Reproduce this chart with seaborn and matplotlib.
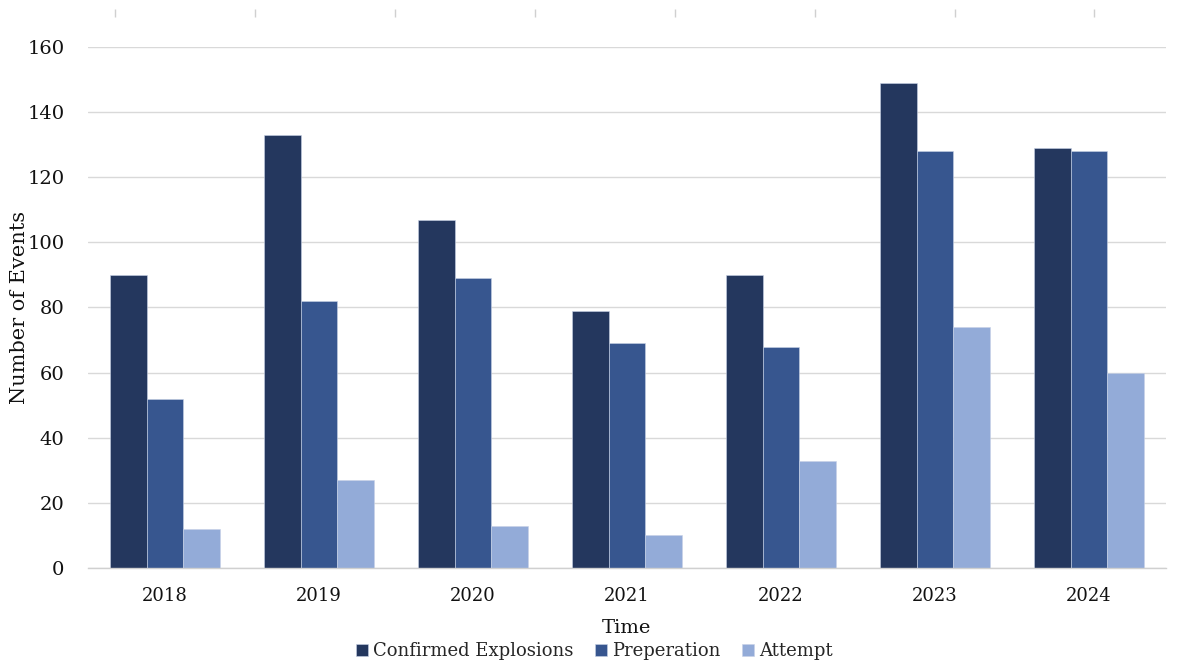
import matplotlib
matplotlib.use("Agg")
import matplotlib.pyplot as plt
import seaborn as sns
import pandas as pd

years = ["2018", "2019", "2020", "2021", "2022", "2023", "2024"]
confirmed = [90, 133, 107, 79, 90, 149, 129]
preparation = [52, 82, 89, 69, 68, 128, 128]
attempt = [12, 27, 13, 10, 33, 74, 60]
series_names = ["Confirmed Explosions", "Preperation", "Attempt"]
y_ticks = [0, 20, 40, 60, 80, 100, 120, 140, 160]

colors = ["#24375E", "#37568F", "#93ABD8"]

df = pd.DataFrame({
    "Time": years * 3,
    "Events": confirmed + preparation + attempt,
    "Series": [series_names[0]] * len(years) + [series_names[1]] * len(years) + [series_names[2]] * len(years),
})

sns.set_theme(style="white")
plt.rcParams["font.family"] = ["DejaVu Serif"]

fig = plt.figure(figsize=(11.8, 6.62), dpi=100)
ax = fig.add_axes([0.0746, 0.142, 0.9134, 0.787])

sns.barplot(data=df, x="Time", y="Events", hue="Series", hue_order=series_names,
            palette=colors, width=0.71, saturation=1, ax=ax,
            edgecolor="#c8d2e6", linewidth=0.4, legend=True)

ax.set_ylim(0, 160)
ax.set_xlim(-0.5, len(years) - 0.5)
ax.set_yticks(y_ticks)
ax.set_yticklabels([str(v) for v in y_ticks])
ax.yaxis.grid(True, color="#d9d9d9", linewidth=1.0)
ax.set_axisbelow(True)
for side in ["top", "right", "left"]:
    ax.spines[side].set_visible(False)
ax.spines["bottom"].set_color("#d0d0d0")
ax.spines["bottom"].set_linewidth(1.0)
ax.tick_params(axis="x", length=0, labelsize=13, colors="#111111", pad=14)
ax.tick_params(axis="y", length=0, labelsize=14, colors="#111111", pad=17)

ax.set_xlabel("Time", fontsize=14, color="#111111")
ax.xaxis.set_label_coords(0.5, -0.097)
ax.set_ylabel("Number of Events", fontsize=15, color="#111111")
ax.yaxis.set_label_coords(-0.055, 0.5)

leg = ax.legend(loc="upper center", bbox_to_anchor=(0.47, -0.128), ncol=3,
                frameon=False, fontsize=13, handlelength=0.65, handleheight=0.65,
                handletextpad=0.3, columnspacing=1.2, borderaxespad=0)

# faint tick marks along the top edge of the figure
top = fig.add_axes([0.0975, 0.975, 0.83, 0.01])
top.set_xlim(0, 7)
top.set_xticks(range(8))
top.set_xticklabels([])
top.set_yticks([])
for s in top.spines.values():
    s.set_visible(False)
top.patch.set_alpha(0)
top.tick_params(axis="x", direction="in", length=6, width=1, color="#d0d0d0", top=False, bottom=True)

fig.savefig("out.png", dpi=100)
